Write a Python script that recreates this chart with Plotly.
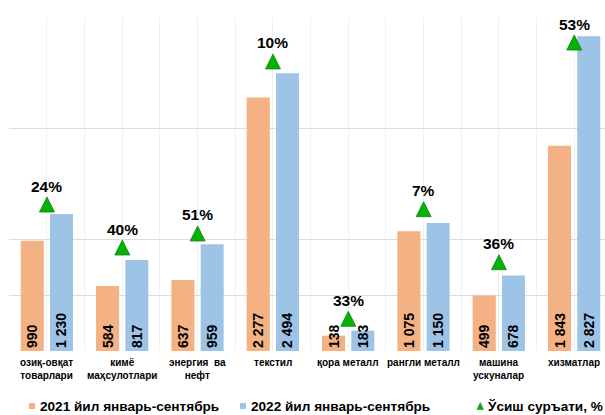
import plotly.graph_objects as go

# Export structure by product group, Jan–Sep 2021 vs 2022
categories = [
    "озиқ-овқат<br>товарлари",
    "кимё<br>маҳсулотлари",
    "энергия\u00a0\u00a0ва<br>нефт",
    "текстил",
    "қора металл",
    "рангли металл",
    "машина<br>ускуналар",
    "хизматлар",
]
values_2021 = [990, 584, 637, 2277, 138, 1075, 499, 1843]
values_2022 = [1230, 817, 959, 2494, 183, 1150, 678, 2827]
growth_pct = [24, 40, 51, 10, 33, 7, 36, 53]
# level at which each growth marker sits (same units as the bars)
marker_level = [1383, 997, 1123, 2668, 357, 1341, 865, 2838]

series_names = ["2021 йил январь-сентябрь", "2022 йил январь-сентябрь"]
growth_name = "Ўсиш суръати, %"

ORANGE = "#F4B183"
BLUE = "#9DC3E6"
GREEN = "#00B400"
FONT = "Liberation Sans, Arial, sans-serif"

# plot-area geometry in pixels (used for placing paper-referenced items)
FIG_W, FIG_H = 605, 415
L, T = 9, 17
W, H = FIG_W - L, 334


def px(x):
    return (x - L) / W


def py(y):
    return (T + H - y) / H


def fmt(v):
    return f"{v:,}".replace(",", " ")


xs = list(range(len(categories)))

fig = go.Figure()

bar_font = dict(family=FONT, size=14, color="#000000", weight="bold", shadow="none")
for vals, color, offset, width in [
    (values_2021, ORANGE, -0.349, 0.307),
    (values_2022, BLUE, 0.040, 0.305),
]:
    fig.add_trace(go.Bar(
        x=xs, y=vals,
        offset=offset, width=width,
        marker=dict(color=color, line=dict(width=0)),
        text=[fmt(v) for v in vals],
        textposition="inside",
        insidetextanchor="start",
        textangle=-90,
        constraintext="none",
        cliponaxis=False,
        textfont=bar_font,
        insidetextfont=bar_font,
        outsidetextfont=bar_font,
        showlegend=False,
        hoverinfo="skip",
    ))

fig.add_trace(go.Scatter(
    x=xs, y=marker_level,
    mode="markers",
    marker=dict(symbol="arrow-up", size=15, color=GREEN,
                line=dict(width=0.8, color="#1F7A1F")),
    showlegend=False,
    hoverinfo="skip",
    cliponaxis=False,
))

annotations = []
for x, lvl, p in zip(xs, marker_level, growth_pct):
    annotations.append(dict(
        x=x, y=lvl, xref="x", yref="y", text=f"{p}%",
        showarrow=False, yanchor="middle", yshift=11,
        font=dict(family=FONT, size=15.5, color="black", weight="bold"),
    ))

for x, cat in zip(xs, categories):
    annotations.append(dict(
        x=x, y=py(355), xref="x", yref="paper", text=cat,
        showarrow=False, yanchor="top", xanchor="center",
        font=dict(family=FONT, size=10, color="black", weight="bold"),
    ))

# legend row
legend_y = py(406)
shapes = [
    dict(type="rect", xref="paper", yref="paper",
         x0=px(29), x1=px(35), y0=py(409), y1=py(403),
         fillcolor=ORANGE, line=dict(width=0)),
    dict(type="rect", xref="paper", yref="paper",
         x0=px(240), x1=px(246), y0=py(409), y1=py(403),
         fillcolor=BLUE, line=dict(width=0)),
    dict(type="path", xref="paper", yref="paper",
         path=f"M {px(477)},{py(409.5)} L {px(483.5)},{py(409.5)} L {px(480.25)},{py(402.5)} Z",
         fillcolor=GREEN, line=dict(width=0.5, color="#1F7A1F")),
]
for x0, label in [(38, series_names[0]), (249, series_names[1]), (485, growth_name)]:
    annotations.append(dict(
        x=px(x0), y=legend_y, xref="paper", yref="paper", text=label,
        showarrow=False, xanchor="left", yanchor="middle",
        font=dict(family=FONT, size=13.6, color="black", weight="bold"),
    ))

fig.update_layout(
    width=FIG_W, height=FIG_H,
    margin=dict(l=L, r=0, t=T, b=FIG_H - T - H, pad=0),
    paper_bgcolor="white", plot_bgcolor="white",
    barmode="overlay",
    showlegend=False,
    annotations=annotations,
    shapes=shapes,
    xaxis=dict(
        range=[-0.5044, 7.408],
        tickmode="linear", tick0=-0.5, dtick=0.5,
        showticklabels=False, ticks="",
        showgrid=True, gridcolor="#F0F0F0", gridwidth=1,
        zeroline=False, showline=False, fixedrange=True,
    ),
    yaxis=dict(
        range=[0, 3000],
        tickmode="array", tickvals=[0, 500, 1000, 2000, 3000],
        showticklabels=False, ticks="",
        showgrid=True, gridcolor="#DCDCDC", gridwidth=1,
        zeroline=False, showline=False, fixedrange=True,
    ),
)

fig.write_html("out.html")
